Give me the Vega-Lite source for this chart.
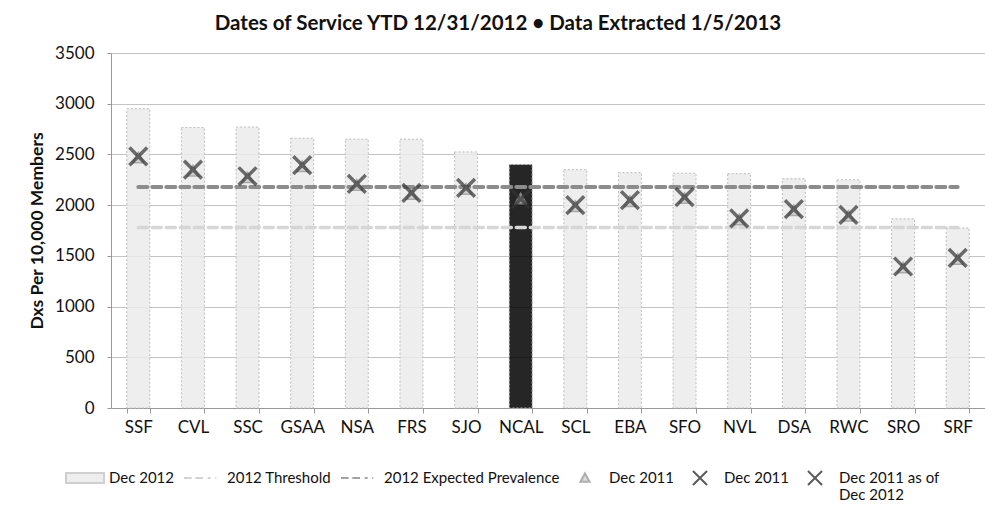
{
  "$schema": "https://vega.github.io/schema/vega-lite/v6.json",
  "width": 874,
  "height": 355,
  "autosize": {"type": "none"},
  "padding": {"left": 111, "top": 53, "right": 0, "bottom": 115},
  "background": "white",
  "title": {
    "text": "Dates of Service YTD 12/31/2012 • Data Extracted 1/5/2013",
    "font": "Lato",
    "fontSize": 20.5,
    "fontWeight": "bold",
    "color": "#111111",
    "dx": -50,
    "offset": 10
  },
  "datasets": {
    "regions": [
      {"region": "SSF", "dec2012": 2950, "threshold": 1780, "expected": 2180},
      {"region": "CVL", "dec2012": 2765, "threshold": 1780, "expected": 2180},
      {"region": "SSC", "dec2012": 2770, "threshold": 1780, "expected": 2180},
      {"region": "GSAA", "dec2012": 2660, "threshold": 1780, "expected": 2180},
      {"region": "NSA", "dec2012": 2650, "threshold": 1780, "expected": 2180},
      {"region": "FRS", "dec2012": 2650, "threshold": 1780, "expected": 2180},
      {"region": "SJO", "dec2012": 2525, "threshold": 1780, "expected": 2180},
      {"region": "NCAL", "dec2012": 2400, "threshold": 1780, "expected": 2180},
      {"region": "SCL", "dec2012": 2350, "threshold": 1780, "expected": 2180},
      {"region": "EBA", "dec2012": 2320, "threshold": 1780, "expected": 2180},
      {"region": "SFO", "dec2012": 2315, "threshold": 1780, "expected": 2180},
      {"region": "NVL", "dec2012": 2310, "threshold": 1780, "expected": 2180},
      {"region": "DSA", "dec2012": 2260, "threshold": 1780, "expected": 2180},
      {"region": "RWC", "dec2012": 2250, "threshold": 1780, "expected": 2180},
      {"region": "SRO", "dec2012": 1865, "threshold": 1780, "expected": 2180},
      {"region": "SRF", "dec2012": 1775, "threshold": 1780, "expected": 2180}
    ],
    "markers": [
      {"region": "SSF", "series": "Dec 2011 (tri)", "value": 2465},
      {"region": "CVL", "series": "Dec 2011 (tri)", "value": 2335},
      {"region": "SSC", "series": "Dec 2011 (tri)", "value": 2270},
      {"region": "GSAA", "series": "Dec 2011 (tri)", "value": 2380},
      {"region": "NSA", "series": "Dec 2011 (tri)", "value": 2195},
      {"region": "FRS", "series": "Dec 2011 (tri)", "value": 2105},
      {"region": "SJO", "series": "Dec 2011 (tri)", "value": 2155},
      {"region": "NCAL", "series": "Dec 2011 (tri)", "value": 2060},
      {"region": "SCL", "series": "Dec 2011 (tri)", "value": 1985},
      {"region": "EBA", "series": "Dec 2011 (tri)", "value": 2035},
      {"region": "SFO", "series": "Dec 2011 (tri)", "value": 2065},
      {"region": "NVL", "series": "Dec 2011 (tri)", "value": 1855},
      {"region": "DSA", "series": "Dec 2011 (tri)", "value": 1945},
      {"region": "RWC", "series": "Dec 2011 (tri)", "value": 1890},
      {"region": "SRO", "series": "Dec 2011 (tri)", "value": 1380},
      {"region": "SRF", "series": "Dec 2011 (tri)", "value": 1465},
      {"region": "SSF", "series": "Dec 2011", "value": 2480},
      {"region": "CVL", "series": "Dec 2011", "value": 2350},
      {"region": "SSC", "series": "Dec 2011", "value": 2285},
      {"region": "GSAA", "series": "Dec 2011", "value": 2395},
      {"region": "NSA", "series": "Dec 2011", "value": 2210},
      {"region": "FRS", "series": "Dec 2011", "value": 2120},
      {"region": "SJO", "series": "Dec 2011", "value": 2170},
      {"region": "NCAL", "series": "Dec 2011", "value": 2060},
      {"region": "SCL", "series": "Dec 2011", "value": 2000},
      {"region": "EBA", "series": "Dec 2011", "value": 2050},
      {"region": "SFO", "series": "Dec 2011", "value": 2080},
      {"region": "NVL", "series": "Dec 2011", "value": 1870},
      {"region": "DSA", "series": "Dec 2011", "value": 1960},
      {"region": "RWC", "series": "Dec 2011", "value": 1905},
      {"region": "SRO", "series": "Dec 2011", "value": 1395},
      {"region": "SRF", "series": "Dec 2011", "value": 1480}
    ]
  },
  "config": {
    "font": "Lato",
    "view": {"stroke": null},
    "axis": {"labelFont": "Lato", "titleFont": "Lato", "labelColor": "#111111", "titleColor": "#111111"}
  },
  "encoding": {
    "x": {
      "field": "region",
      "type": "nominal",
      "sort": null,
      "scale": {"paddingInner": 0.58, "paddingOuter": 0.29},
      "axis": {
        "title": null,
        "labelAngle": 0,
        "labelFontSize": 17,
        "labelPadding": 6,
        "tickSize": 5,
        "tickBand": "extent",
        "domainColor": "#999999",
        "tickColor": "#999999",
        "grid": false
      }
    }
  },
  "layer": [
    {
      "data": {"name": "regions"},
      "mark": {"type": "bar", "stroke": "#bdbdbd", "strokeDash": [2, 2], "strokeWidth": 1, "fillOpacity": 0.85},
      "encoding": {
        "y": {
          "field": "dec2012",
          "type": "quantitative",
          "scale": {"domain": [0, 3500]},
          "axis": {
            "title": "Dxs Per 10,000 Members",
            "titleFontSize": 17.5,
            "titleFontWeight": "bold",
            "titlePadding": 8,
            "values": [0, 500, 1000, 1500, 2000, 2500, 3000, 3500],
            "format": "d",
            "labelFontSize": 17,
            "labelPadding": 13,
            "tickSize": 4,
            "domainColor": "#999999",
            "tickColor": "#999999",
            "grid": true,
            "gridColor": "#c4c4c4",
            "gridWidth": 1
          }
        },
        "fill": {
          "condition": {"test": "datum.region === 'NCAL'", "value": "#000000"},
          "value": "#ebebeb"
        }
      }
    },
    {
      "data": {"name": "regions"},
      "mark": {"type": "line", "stroke": "#d6d6d6", "strokeWidth": 3.5, "strokeDash": [9, 5], "strokeCap": "round"},
      "encoding": {"y": {"field": "threshold", "type": "quantitative"}}
    },
    {
      "data": {"name": "regions"},
      "mark": {"type": "line", "stroke": "#8c8c8c", "strokeWidth": 4, "strokeDash": [9, 5], "strokeCap": "round"},
      "encoding": {"y": {"field": "expected", "type": "quantitative"}}
    },
    {
      "data": {"name": "markers"},
      "transform": [{"filter": "datum.series === 'Dec 2011 (tri)'"}],
      "mark": {"type": "point", "filled": true, "size": 2300, "strokeWidth": 1.5, "opacity": 0.8},
      "encoding": {
        "y": {"field": "value", "type": "quantitative"},
        "shape": {"field": "series", "type": "nominal", "scale": {"domain": ["Dec 2012", "2012 Threshold", "2012 Expected Prevalence", "Dec 2011 (tri)", "Dec 2011", "Dec 2011 as of Dec 2012"], "range": ["M-1,-0.26H1V0.26H-1Z", "M-1,0H-0.6M-0.4,0H0M0.25,0H0.4M0.65,0H0.7", "M-1,0H-0.6M-0.4,0H0M0.25,0H0.4M0.65,0H0.7", "M0,-0.24L0.24,0.2H-0.24Z", "M-0.37,-0.37L0.37,0.37M-0.37,0.37L0.37,-0.37", "M-0.37,-0.37L0.37,0.37M-0.37,0.37L0.37,-0.37"]}},
        "fill": {"field": "series", "type": "nominal", "scale": {"domain": ["Dec 2012", "2012 Threshold", "2012 Expected Prevalence", "Dec 2011 (tri)", "Dec 2011", "Dec 2011 as of Dec 2012"], "range": ["#e6e6e6", "#d2d2d2", "#8c8c8c", "#c8c8c8", "#333333", "#333333"]}},
        "stroke": {"field": "series", "type": "nominal", "scale": {"domain": ["Dec 2012", "2012 Threshold", "2012 Expected Prevalence", "Dec 2011 (tri)", "Dec 2011", "Dec 2011 as of Dec 2012"], "range": ["#c4c4c4", "#c8c8c8", "#8c8c8c", "#9a9a9a", "#333333", "#333333"]}}
      }
    },
    {
      "data": {"name": "markers"},
      "transform": [{"filter": "datum.series === 'Dec 2011'"}],
      "mark": {"type": "point", "filled": true, "size": 2300, "strokeWidth": 3.5},
      "encoding": {
        "y": {"field": "value", "type": "quantitative"},
        "shape": {
          "field": "series",
          "type": "nominal",
          "legend": {
            "title": null,
            "orient": "none",
            "direction": "horizontal",
            "legendX": -46,
            "legendY": 405,
            "symbolSize": 1444,
            "symbolStrokeWidth": 2,
            "labelFont": "Lato",
            "labelFontSize": 15,
            "labelColor": "#111111",
            "labelLimit": 300,
            "labelOffset": 4,
            "columnPadding": 5,
            "labelExpr": "datum.label === 'Dec 2011 (tri)' ? ['Dec 2011', ''] : datum.label === 'Dec 2011 as of Dec 2012' ? ['Dec 2011 as of', 'Dec 2012'] : [datum.label, '']"
          }
        },
        "fill": {"field": "series", "type": "nominal"},
        "stroke": {"field": "series", "type": "nominal"}
      }
    }
  ]
}
